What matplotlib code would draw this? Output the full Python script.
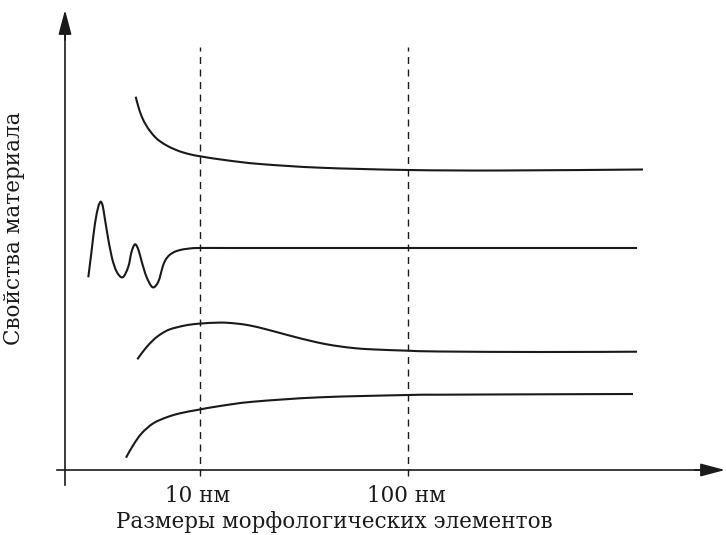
import matplotlib
matplotlib.use('Agg')
import matplotlib.pyplot as plt
from matplotlib.path import Path
from matplotlib.patches import PathPatch

# schematic values, x = size (arbitrary units), y = property (arbitrary units)
top_x = [70.7, 73.3, 76.7, 81, 85, 90, 95, 101.7, 110, 120, 133.3, 161.7, 195, 255, 343, 435, 578]
top_y = [373.3, 363.5, 353.5, 345, 339, 333, 328.7, 324.5, 320.5, 317, 314, 309.7, 306, 302.3, 300, 299.5, 300.5]

osc_x = [23.3, 26.7, 30, 33.3, 35, 35.7, 37, 38.5, 41.7, 46.7, 51.7, 57.7, 63.3, 66.5,
         70, 73.5, 76.7, 81.7, 87.7, 93.3, 97.7, 100.5, 104, 108.3, 114.3, 123, 133, 165, 235,
         335, 435, 572]
osc_y = [192.7, 220, 246.7, 263.3, 267.5, 268.3, 266.5, 260, 240, 213.3, 198.3, 192.7, 203.3, 218,
         225.7, 220, 208.3, 192.7, 182.7, 188.3, 203.3, 210, 214.5, 217.5, 219.8, 221.3, 222, 222, 222,
         222, 222, 222]

hump_x = [72.3, 80, 88.3, 96, 105, 120, 133.7, 155, 170, 185, 200, 215, 230, 245, 260, 275, 290, 308,
          343, 375, 475, 572]
hump_y = [110.7, 121, 130, 136, 140.7, 144.5, 146.3, 147.4, 146.6, 144.5, 141, 137, 133, 129.3, 126,
          123.6, 121.8, 120.6, 119.3, 118.5, 118, 118.3]

low_x = [61, 68.3, 76.7, 88.3, 101.7, 115, 133.7, 155, 188.3, 255, 342.7, 375, 475, 568]
low_y = [12.3, 25, 36.7, 46.7, 52.7, 56.7, 60.3, 64, 68.3, 72.7, 75, 75.3, 75.7, 76]

marks = [135, 343]
mark_labels = ['10 нм', '100 нм']

plt.rcParams['font.family'] = ['DejaVu Serif']
ink = '#1a1a1a'


def smooth_path(xs, ys):
    # bezier segments through the given points (catmull-rom tangents)
    pts = list(zip(xs, ys))
    verts = [pts[0]]
    codes = [Path.MOVETO]
    n = len(pts)
    for i in range(n - 1):
        p0 = pts[max(i - 1, 0)]
        p1 = pts[i]
        p2 = pts[i + 1]
        p3 = pts[min(i + 2, n - 1)]
        c1 = (p1[0] + (p2[0] - p0[0]) / 6, p1[1] + (p2[1] - p0[1]) / 6)
        c2 = (p2[0] - (p3[0] - p1[0]) / 6, p2[1] - (p3[1] - p1[1]) / 6)
        verts += [c1, c2, p2]
        codes += [Path.CURVE4] * 3
    return Path(verts, codes)


fig = plt.figure(figsize=(7.26, 5.35), dpi=100)
ax = fig.add_axes([65 / 726, 65 / 535, 661 / 726, 470 / 535])
ax.set_xlim(0, 661)
ax.set_ylim(0, 470)
ax.axis('off')

# axes with arrows
ax.plot([-8, 650], [0, 0], color=ink, lw=1.2, clip_on=False)
ax.plot([0, 0], [-15, 450], color=ink, lw=1.2, clip_on=False)
arrow = dict(arrowstyle='-|>,head_length=0.75,head_width=0.2', color=ink, lw=1.2,
             mutation_scale=20, shrinkA=0, shrinkB=0)
ax.annotate('', xy=(660, 0), xytext=(630, 0), arrowprops=arrow, annotation_clip=False)
ax.annotate('', xy=(0, 460), xytext=(0, 430), arrowprops=arrow, annotation_clip=False)

for m, lab in zip(marks, mark_labels):
    ax.plot([m, m], [-6, 423], color=ink, lw=1.0, dashes=(5, 4), clip_on=False)
    ax.text(m - 2, -26, lab, ha='center', va='center', fontsize=15.5, color=ink, clip_on=False)

for xs, ys in [(top_x, top_y), (osc_x, osc_y), (hump_x, hump_y), (low_x, low_y)]:
    ax.add_patch(PathPatch(smooth_path(xs, ys), fill=False, edgecolor=ink, lw=1.5,
                           capstyle='butt', joinstyle='round'))

ax.text(269, -52, 'Размеры морфологических элементов', ha='center', va='center',
        fontsize=15.5, color=ink, clip_on=False)
ax.text(-51, 242, 'Свойства материала', ha='center', va='center', rotation=90,
        fontsize=15.5, color=ink, clip_on=False)

fig.savefig('out.png', dpi=100)
